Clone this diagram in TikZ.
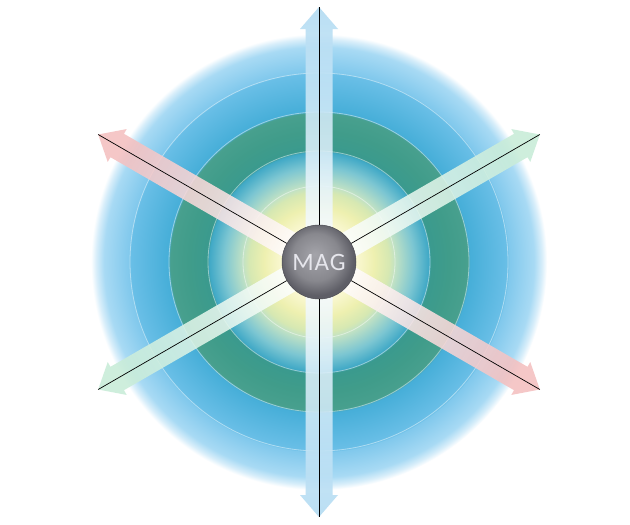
\documentclass[tikz,border=0pt]{standalone}
\usepackage{fontspec}
\newfontfamily\magfont[LetterSpace=4]{Carlito}
\definecolor{r0}{HTML}{FFFFF2}
\definecolor{r1}{HTML}{FAF8D2}
\definecolor{r2}{HTML}{EEF0B0}
\definecolor{r3}{HTML}{D6E8B2}
\definecolor{r4}{HTML}{C2E2C4}
\definecolor{r5}{HTML}{7CC6D2}
\definecolor{r6}{HTML}{3FA8C6}
\definecolor{g1}{HTML}{3A9A8E}
\definecolor{g2}{HTML}{409C8A}
\definecolor{g3}{HTML}{48A08E}
\definecolor{b1}{HTML}{46AED8}
\definecolor{b2}{HTML}{6ABFE7}
\definecolor{o1}{HTML}{80C8EC}
\definecolor{o2}{HTML}{A8DAF4}
\definecolor{o3}{HTML}{D8EEFA}
\definecolor{armblue}{HTML}{B0DAF2}
\definecolor{armpink}{HTML}{F4C0C0}
\definecolor{armgreen}{HTML}{C8ECD8}
\definecolor{ballin}{HTML}{A4A4AA}
\definecolor{ballmid}{HTML}{88888E}
\definecolor{ballout}{HTML}{5E5E66}
\definecolor{magtext}{HTML}{E6E6EC}
\pgfdeclareradialshading{rings}{\pgfpoint{0bp}{0bp}}{%
color(0bp)=(r0); color(4.06bp)=(r1); color(6.03bp)=(r2); color(7.68bp)=(r3);
color(8.33bp)=(r4); color(10.42bp)=(r5); color(12.06bp)=(r6);
color(12.23bp)=(g1); color(14.25bp)=(g2); color(16.34bp)=(g3);
color(16.5bp)=(b1); color(20.72bp)=(b2); color(20.83bp)=(o1);
color(23.57bp)=(o2); color(24.45bp)=(o3); color(25bp)=(white); color(50bp)=(white)}
\pgfdeclareradialshading{ballshade}{\pgfpoint{-3bp}{5bp}}{%
color(0bp)=(ballin); color(16bp)=(ballmid); color(25bp)=(ballout); color(50bp)=(ballout)}
\begin{document}
\begin{tikzpicture}[x=1pt,y=-1pt,
  ringline/.style={draw=white, draw opacity=0.45, line width=0.8pt},
  axisline/.style={draw=black, line width=0.7pt}]
\useasboundingbox[fill=white] (0,0) rectangle (630,525);
\coordinate (C) at (319,262);
% background rings
\shade[shading=rings] (C) circle (228);
\foreach \r in {76,111,150,189} \draw[ringline] (C) circle (\r);
% arms
\foreach \ang/\col in {90/armblue,270/armblue,150/armpink,330/armpink,30/armgreen,210/armgreen}{
  \pgfmathsetmacro{\sa}{\ang-90}
  \begin{scope}[shift={(C)}, rotate=\ang]
    \shade[fill opacity=0.88, bottom color=white, middle color=\col!55!white, top color=\col, shading angle=\sa]
      (0,-13.5) -- (233,-13.5) -- (233,-19) -- (255,0) -- (233,19) -- (233,13.5) -- (0,13.5) -- cycle;
  \end{scope}
}
% tips
\foreach \ang/\nm in {90/tU,270/tD,150/tUL,330/tDR,30/tUR,210/tDL}{
  \path (C) ++(\ang:255) coordinate (\nm);
}
% ball
\node[circle, minimum size=74pt, inner sep=0pt, shading=ballshade, draw=ballout!80!black, line width=0.5pt,
  text=magtext, font=\magfont\fontsize{25}{25}\selectfont] (ball) at (C) {MAG};
\foreach \nm in {tU,tD,tUL,tDR,tUR,tDL} \draw[axisline] (ball) -- (\nm);
\end{tikzpicture}
\end{document}
